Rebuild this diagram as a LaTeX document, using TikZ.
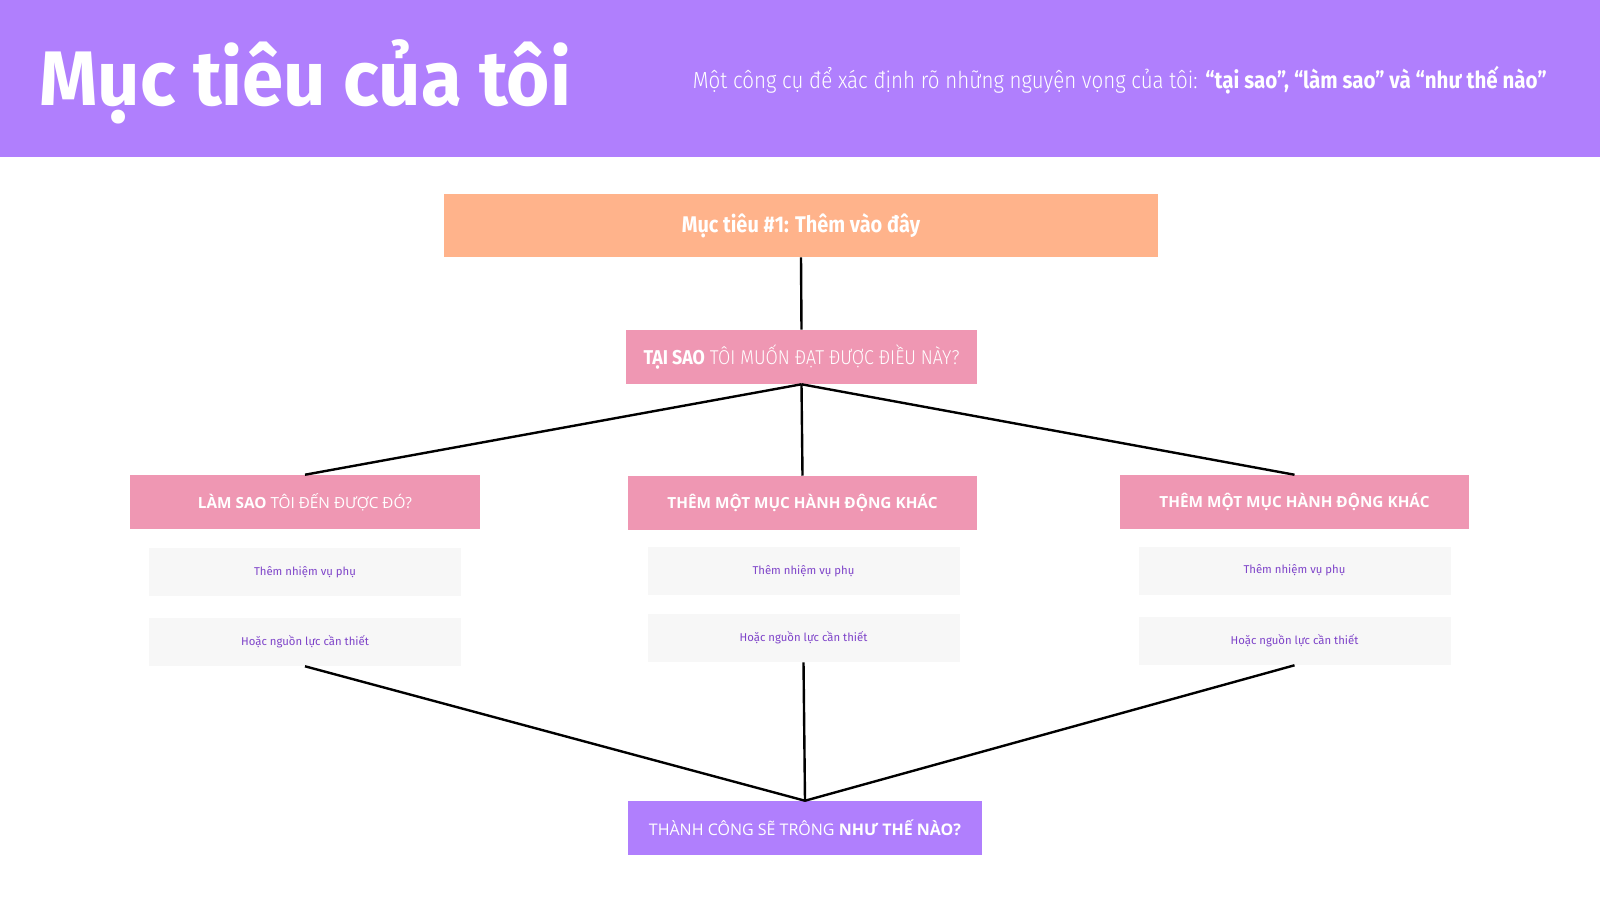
\documentclass[tikz,border=0pt]{standalone}
\usepackage{fontspec}
\setmainfont{Open Sans}
\newfontfamily\titlefont[FakeStretch=0.96]{Fira Sans}
\newfontfamily\subbold[FakeStretch=0.88]{Fira Sans}
\newfontfamily\sublight[FakeStretch=0.88]{Fira Sans Light}
\newfontfamily\whybold[FakeStretch=0.89]{Fira Sans}
\newfontfamily\whylight[FakeStretch=0.89]{Fira Sans Light}
\newfontfamily\smallfont{Fira Sans}
\definecolor{hdrpurple}{HTML}{B07FFD}
\definecolor{goalorange}{HTML}{FFB38B}
\definecolor{qpink}{HTML}{EF97B3}
\definecolor{subgray}{HTML}{F7F7F7}
\definecolor{subtext}{HTML}{7E43C9}
\begin{document}
\begin{tikzpicture}[x=0.75pt,y=-0.75pt,
  box/.style={inner sep=0pt, align=center, text=white},
  goalbox/.style={box, fill=goalorange, minimum width=535.5pt, minimum height=47.25pt, font=\subbold\bfseries\fontsize{17}{20}\selectfont},
  qbox/.style={box, fill=qpink, minimum width=262pt, minimum height=40.5pt, font=\fontsize{11.5}{14}\selectfont},
  subbox/.style={inner sep=0pt, fill=subgray, minimum width=234pt, minimum height=36pt, text=subtext, font=\smallfont\fontsize{8.5}{10}\selectfont},
  endbox/.style={box, fill=hdrpurple, minimum width=265.5pt, minimum height=40.5pt, font=\fontsize{12}{14}\selectfont},
  link/.style={line width=1.8pt, black}
]
\useasboundingbox (0,0) rectangle (1600,900);
\fill[white] (0,0) rectangle (1600,900);
\fill[hdrpurple] (0,0) rectangle (1600,157);
\node[anchor=base west, inner sep=0pt, text=white, font=\titlefont\bfseries\fontsize{58}{64}\selectfont] (title) at (39,105) {Mục tiêu của tôi};
\node[anchor=base east, inner sep=0pt, text=white, font=\sublight\fontsize{17.5}{20}\selectfont] (subtitle) at (1547,88.5) {Một công cụ để xác định rõ những nguyện vọng của tôi: {\subbold\bfseries “tại sao”, “làm sao” và “như thế nào”}};

\node[goalbox] (goal) at (801,225.5) {Mục tiêu \#1: Thêm vào đây};
\node[qbox, font=\whylight\fontsize{15}{17}\selectfont, minimum width=263.25pt] (why) at (801.5,357) {{\whybold\bfseries TẠI SAO} TÔI MUỐN ĐẠT ĐƯỢC ĐIỀU NÀY?};

\node[qbox] (how) at (305,502) {\textbf{LÀM SAO} TÔI ĐẾN ĐƯỢC ĐÓ?};
\node[qbox] (act1) at (802.5,503) {\textbf{THÊM MỘT MỤC HÀNH ĐỘNG KHÁC}};
\node[qbox] (act2) at (1294.5,502) {\textbf{THÊM MỘT MỤC HÀNH ĐỘNG KHÁC}};

\node[subbox] (s1a) at (305,572) {Thêm nhiệm vụ phụ};
\node[subbox] (s1b) at (305,642) {Hoặc nguồn lực cần thiết};
\node[subbox] (s2a) at (803.5,571) {Thêm nhiệm vụ phụ};
\node[subbox] (s2b) at (803.5,638) {Hoặc nguồn lực cần thiết};
\node[subbox] (s3a) at (1294.5,570.5) {Thêm nhiệm vụ phụ};
\node[subbox] (s3b) at (1294.5,641) {Hoặc nguồn lực cần thiết};

\node[endbox] (success) at (805,828) {THÀNH CÔNG SẼ TRÔNG \textbf{NHƯ THẾ NÀO?}};

\draw[link] (goal.south) -- (why.north);
\draw[link] (why.south) -- (how.north);
\draw[link] (why.south) -- (act1.north);
\draw[link] (why.south) -- (act2.north);
\draw[link] (s1b.south) -- (success.north);
\draw[link] (s2b.south) -- (success.north);
\draw[link] (s3b.south) -- (success.north);
\end{tikzpicture}
\end{document}
